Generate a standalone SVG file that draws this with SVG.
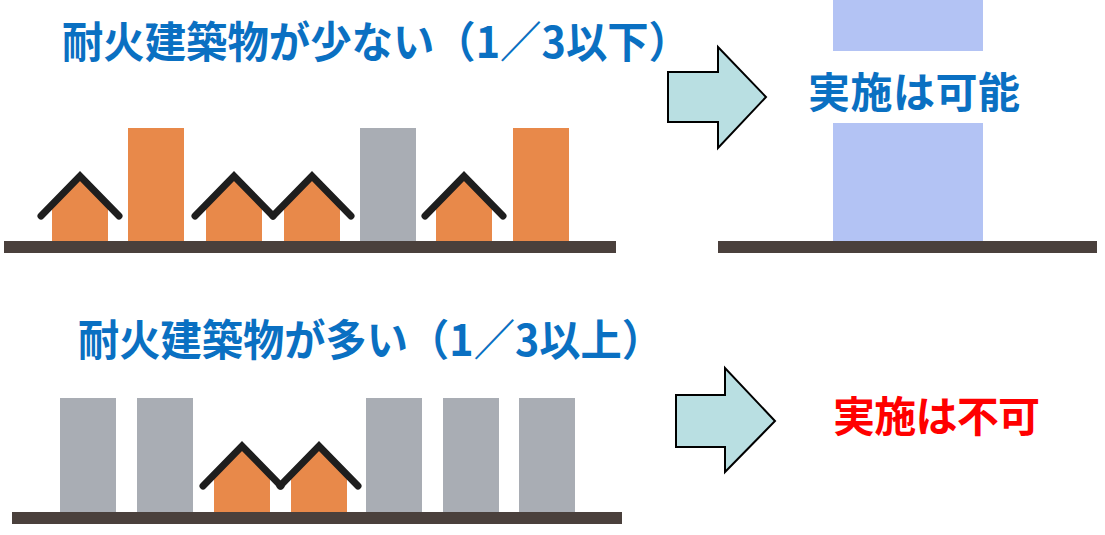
<svg xmlns="http://www.w3.org/2000/svg" width="1105" height="535" viewBox="0 0 1105 535">
  <style>
    .title { font-family: "Noto Sans CJK JP", "Noto Sans", sans-serif; font-weight: 700; font-size: 43px; fill: #0A70C2; }
    .result { font-family: "Noto Sans CJK JP", "Noto Sans", sans-serif; font-weight: 700; font-size: 42px; }
    .ground { fill: #4A403C; }
    .orange { fill: #E8894A; }
    .gray { fill: #A9ADB4; }
    .roof { fill: none; stroke: #1E1E1E; stroke-width: 7; stroke-linecap: round; stroke-linejoin: miter; }
    .arrow { fill: #B9DFE2; stroke: #000; stroke-width: 2; stroke-linejoin: miter; }
  </style>
  <defs>
    <!-- house: orange pentagon body with a dark roof line, origin at ground centre -->
    <g id="house">
      <polygon class="orange" points="-28,0 -28,-38 0,-66 28,-38 28,0"/>
      <polyline class="roof" points="-39,-26 0,-66 39,-26"/>
    </g>
  </defs>
  <rect width="1105" height="535" fill="#FFFFFF"/>

  <!-- upper row: few fire-resistant buildings -->
  <g id="title-few">
    <text class="title" x="62" y="58" textLength="628" lengthAdjust="spacingAndGlyphs">耐火建築物が少ない（1／3以下）</text>
  </g>
  <g id="street-few">
    <use href="#house" x="80" y="242"/>
    <rect class="orange" x="128" y="128" width="56" height="114"/>
    <use href="#house" x="234" y="242"/>
    <use href="#house" x="312" y="242"/>
    <rect class="gray" x="360" y="128" width="56" height="114"/>
    <use href="#house" x="464" y="242"/>
    <rect class="orange" x="513" y="128" width="56" height="114"/>
    <rect class="ground" x="4" y="241" width="612" height="12"/>
  </g>
  <g id="result-possible">
    <rect x="833" y="0" width="150" height="241" fill="#B3C3F4"/>
    <rect x="833" y="51" width="150" height="72" fill="#FFFFFF"/>
    <text class="result" x="808" y="108" fill="#0A70C2" textLength="212" lengthAdjust="spacing">実施は可能</text>
    <rect class="ground" x="718" y="241" width="379" height="12"/>
  </g>

  <!-- lower row: many fire-resistant buildings -->
  <g id="title-many">
    <text class="title" x="78" y="356" textLength="585" lengthAdjust="spacingAndGlyphs">耐火建築物が多い（1／3以上）</text>
  </g>
  <g id="street-many">
    <rect class="gray" x="60" y="398" width="56" height="114"/>
    <rect class="gray" x="137" y="398" width="56" height="114"/>
    <use href="#house" x="242" y="512"/>
    <use href="#house" x="319" y="512"/>
    <rect class="gray" x="366" y="398" width="56" height="114"/>
    <rect class="gray" x="443" y="398" width="56" height="114"/>
    <rect class="gray" x="519" y="398" width="56" height="114"/>
    <rect class="ground" x="12" y="512" width="610" height="12"/>
  </g>
  <g id="result-impossible">
    <text class="result" x="833" y="432" fill="#FF0000" font-size="41" textLength="207" lengthAdjust="spacing">実施は不可</text>
  </g>

  <!-- block arrows leading to each outcome -->
  <g id="connectors">
    <polygon class="arrow" points="668,72 718,72 718,47 766,97 718,148 718,122 668,122"/>
    <polygon class="arrow" points="676,395 725,395 725,368 775,421 725,472 725,447 676,447"/>
  </g>
</svg>
